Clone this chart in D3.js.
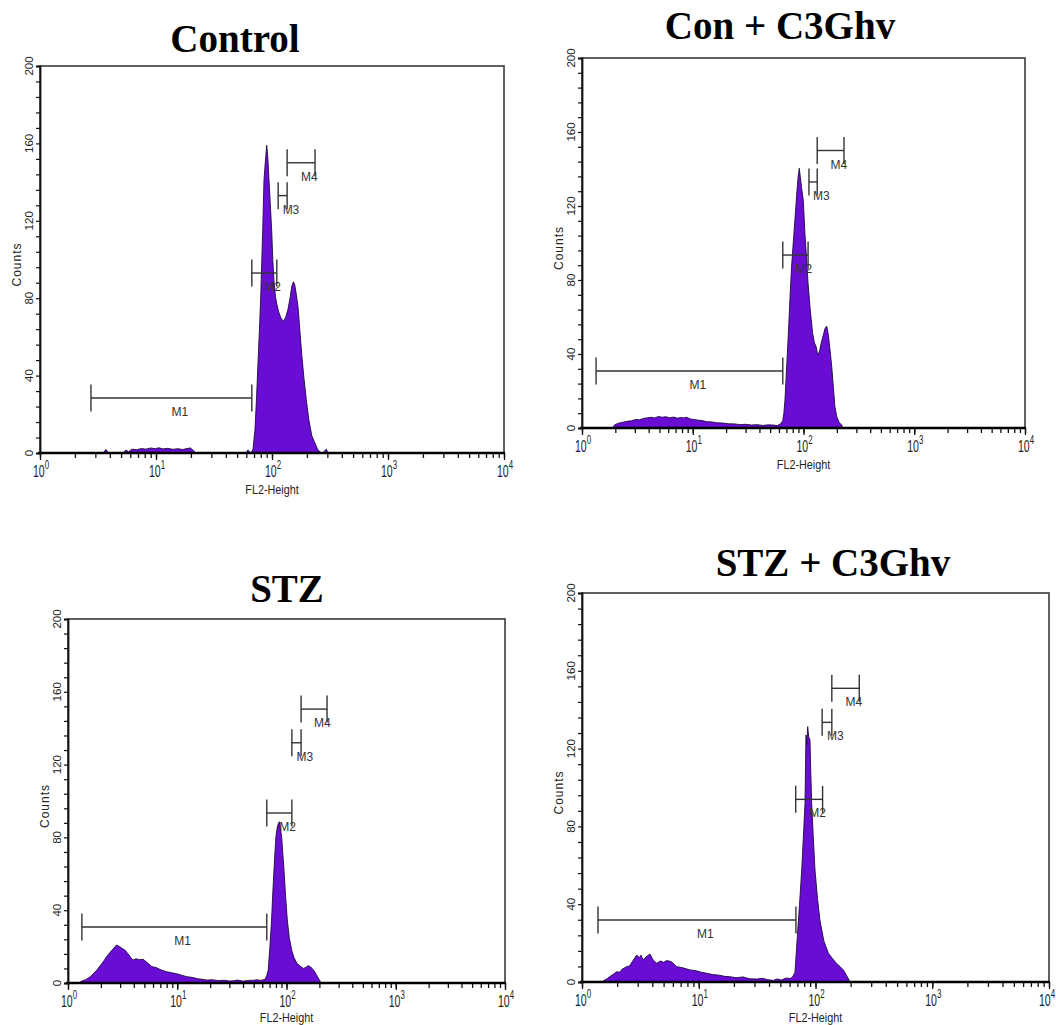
<!DOCTYPE html>
<html><head><meta charset="utf-8">
<script src="https://cdn.jsdelivr.net/npm/d3@7"></script>
<style>body{margin:0;background:#fff}</style></head>
<body>
<svg id="chart" width="1056" height="1025"></svg>
<script>
// ---------- DATA ----------
const panelTitles = ["Control", "Con + C3Ghv", "STZ", "STZ + C3Ghv"];
const xAxisTitle = "FL2-Height";
const yAxisTitle = "Counts";
const yTickLabels = [0, 40, 80, 120, 160, 200];
const xDecades = [1, 10, 100, 1000, 10000];
const xDecadeExponents = ["0", "1", "2", "3", "4"];
const markerNames = ["M1", "M2", "M3", "M4"];

// histogram outlines: [FL2-Height, counts]
const controlHist = [[1,0],[3.5,0],[3.7,1.8],[3.9,0],[5.2,0],[5.5,1.5],[5.8,0.6],[6.2,2],[6.8,1.7],[7.5,2.3],[8.2,2.0],[9,2.6],[9.8,2.2],[10.6,2.7],[11.5,2.1],[12.5,2.4],[14,1.9],[15.5,2.2],[17,1.8],[18.5,2.3],[19.8,2.6],[20.8,1.5],[22,0],[60,0],[62,1.6],[64,0.5],[66,0],[68.6,2],[71.3,12],[73.5,28],[75.7,46],[78,64],[79.9,80],[81.5,98],[83.2,115],[85.3,141],[87.5,150],[90,159],[92,153],[94.2,141],[96.8,128],[99.4,115],[101.5,100],[104,89],[107,81],[110,77],[114,73],[119,70],[125,68],[131,70],[137,74],[143,80],[148,86],[153,88.5],[157,87],[162,82],[168,75],[174,63],[181,50],[189,38],[198,27],[208,17],[220,9],[235,5],[247,2],[259,0.5],[275,0],[288,1.5],[295,2],[302,0],[10000,0]];
const conC3Hist = [[1,0],[1.9,0],[1.95,1.5],[2.1,2.5],[2.3,3],[2.55,3.6],[2.8,3.9],[3.05,4.6],[3.3,4.4],[3.6,5.2],[3.9,5.5],[4.2,5.8],[4.5,5.4],[4.9,6.2],[5.3,5.8],[5.7,6.1],[6.2,5.5],[6.7,5.9],[7.3,5.3],[7.8,5.7],[8.2,5.4],[8.8,5.8],[9.5,4.9],[10.3,4.6],[11.2,4.2],[12.2,4],[13.4,3.4],[14.8,3.3],[16.5,2.8],[18.5,2.7],[21,2.3],[24,2.2],[26.7,1.8],[30,2],[34,1.6],[38,1.8],[43,1.4],[48,1.7],[53,1.6],[58,1.3],[62,2.2],[65,4],[66.5,8],[68,15],[70.5,33],[73,51],[75.5,70],[78,87],[81,101],[84,114],[87,127],[89.5,136],[91.6,140.4],[93.5,136],[96,130],[99.6,123],[103,105],[106.5,92],[110,78],[115,64],[121,51],[125.5,46],[130,44],[133,41],[136,39.5],[140,42],[146,47],[152,51],[157,54],[162,55],[167,51],[173,43],[180,33],[186,22],[192,11.5],[200,6],[210,3],[221,1.6],[228,0],[10000,0]];
const stzHist = [[1,0],[1.25,0],[1.33,1],[1.45,1.8],[1.6,3.5],[1.83,7],[2.0,10],[2.15,12.5],[2.26,14.5],[2.4,16.5],[2.55,18.3],[2.7,20],[2.79,20.9],[2.95,20],[3.1,19.2],[3.33,18],[3.55,16],[3.75,14],[3.95,12.6],[4.2,13.3],[4.5,12.8],[4.89,13],[5.3,11.2],[5.83,9],[6.4,8.5],[7.1,7.2],[8.0,6.2],[8.9,5.6],[9.9,5.1],[11,4.2],[12.2,3.5],[13.6,3.1],[15.3,2.4],[17,2],[18.6,1.6],[21,1.8],[24,1.3],[27,1.5],[30,1.1],[32.6,1.2],[36,1.6],[40,1.0],[44,1.4],[49.7,1.5],[54,1.8],[58,1.4],[63.6,2],[65.9,4],[68,7],[70.5,20],[73,34.6],[75,50],[76.8,62],[78.5,72],[80,80.4],[82,85],[84,87.5],[86,88.6],[88,85],[90.4,80],[92.5,71],[94.9,62],[98,48],[101.7,34.6],[106,25],[111.6,18],[117,14],[124,11],[132,9.5],[142.5,8],[150,8.5],[157,9.5],[164,9],[172,8],[182,6],[192,3.5],[203,1],[210,0],[10000,0]];
const stzC3Hist = [[1,0],[1.45,0],[1.52,0.5],[1.62,1.5],[1.75,3],[1.88,4.2],[1.98,5.3],[2.1,5],[2.2,6.5],[2.41,7.9],[2.55,8.2],[2.7,10.5],[2.94,13.9],[3.1,12.5],[3.2,13.8],[3.35,11.3],[3.55,13],[3.82,14.4],[4.05,11.5],[4.36,9.6],[4.7,10.8],[5.0,10.1],[5.31,11],[5.8,10.5],[6.47,7.9],[7.3,7.3],[8.42,6.2],[9.5,5.8],[10.5,5],[11.7,4.5],[13.2,3.8],[15,3.5],[16.7,2.9],[18.5,2.7],[21,2.2],[24,2.6],[27,1.7],[31.4,1.5],[35,1.9],[39,1.2],[43.5,0.8],[47,1.6],[51,1.0],[56,2],[60.5,1.8],[63.5,2.5],[66.7,5],[68.3,14],[69.9,23.3],[73,40],[76.2,57.6],[78.8,75],[81.3,91.9],[82.9,127],[84.3,122],[85.7,131.3],[87.5,126],[89.7,124.4],[91,109],[92.7,91.9],[95.8,74],[99,57.6],[104,43],[109,31.9],[118,21],[129,14.8],[140,12],[151,9.6],[162,8],[173,6.2],[186,3],[198,0],[10000,0]];

// gate markers: [start, end, count level]
const controlMarkers = [[2.75,67,28.4],[67,110,93],[113,135,133],[135,235,150]];
const conC3Markers  = [[1.34,65,30.8],[65,110,93.5],[112,133,133],[133,232,150]];
const stzMarkers    = [[1.34,66,30.8],[66,112,93.4],[112,136,132],[136,235,150.5]];
const stzC3Markers  = [[1.37,68,31.9],[67.7,115,93.9],[114,138,133.5],[138,237,151]];

const histograms = [controlHist, conC3Hist, stzHist, stzC3Hist];
const markers = [controlMarkers, conC3Markers, stzMarkers, stzC3Markers];

// ---------- LAYOUT ----------
const layout = [
  {left:40,  right:504,  top:66,  bottom:453, tx:235, ty:52},
  {left:582, right:1025, top:58,  bottom:428, tx:780, ty:39},
  {left:68,  right:505,  top:619, bottom:983, tx:287, ty:602},
  {left:582, right:1049, top:593, bottom:982, tx:833, ty:576}
];

const svg = d3.select("#chart");
const sans = "'Liberation Sans', Arial, sans-serif";
const fillCol = "#6a0dd4";
const W = 1056, H = 1025;

layout.forEach((p, i) => {
  const g = svg.append("g");
  const x = d3.scaleLog().domain([1, 10000]).range([p.left, p.right]);
  const y = d3.scaleLinear().domain([0, 200]).range([p.bottom, p.top]);

  // title
  g.append("text").attr("x", p.tx).attr("y", p.ty).attr("text-anchor", "middle")
    .style("font-family", "'Liberation Serif','Times New Roman',serif")
    .style("font-weight", "bold").style("font-size", "39px").attr("fill", "#000")
    .text(panelTitles[i]);

  // frame
  g.append("rect").attr("x", p.left).attr("y", p.top)
    .attr("width", p.right - p.left).attr("height", p.bottom - p.top)
    .attr("fill", "none").attr("stroke", "#3a3a3a").attr("stroke-width", 1.6);

  // histogram
  const area = d3.area().x(d => x(d[0])).y0(y(0)).y1(d => y(d[1]));
  g.append("path").datum(histograms[i]).attr("d", area)
    .attr("fill", fillCol).attr("stroke", "#1e0840").attr("stroke-width", 0.9)
    .attr("stroke-linejoin", "round");

  // x axis: minor + major ticks
  const xMinor = d3.axisBottom(x).tickValues(x.ticks()).tickSize(5).tickFormat("");
  const xg = g.append("g").attr("transform", `translate(0,${p.bottom})`).call(xMinor);
  const xMajor = d3.axisBottom(x).tickValues(xDecades).tickSize(7).tickFormat("");
  const xg2 = g.append("g").attr("transform", `translate(0,${p.bottom})`).call(xMajor);
  [xg, xg2].forEach(a => {
    a.select(".domain").remove();
    a.selectAll(".tick line").attr("stroke", "#111").attr("stroke-width", 1.3);
  });
  // thick baseline
  g.append("line").attr("x1", p.left - 2).attr("x2", p.right + 1)
    .attr("y1", p.bottom).attr("y2", p.bottom)
    .attr("stroke", "#000").attr("stroke-width", 2.6);

  // x tick labels 10^k
  xDecades.forEach((v, k) => {
    let cx = x(v) + 1;
    if (cx + 8 > W - 1) cx = W - 9;
    const t = g.append("text")
      .attr("transform", `translate(${cx},${p.bottom + 24}) scale(0.66,1)`)
      .attr("text-anchor", "middle").style("font-family", sans)
      .style("font-size", "16px").attr("fill", "#222");
    t.append("tspan").text("10");
    t.append("tspan").attr("dy", -8).style("font-size", "12px").text(xDecadeExponents[k]);
  });
  // x axis title
  const ty = Math.min(p.bottom + 41, H - 3);
  g.append("text")
    .attr("transform", `translate(${(p.left + p.right) / 2},${ty}) scale(0.9,1)`)
    .attr("text-anchor", "middle").style("font-family", sans).style("font-size", "12px")
    .attr("fill", "#222").text(xAxisTitle);

  // y axis ticks
  const yAx = d3.axisLeft(y).tickValues(d3.range(0, 201, 8)).tickSize(4).tickFormat("");
  const yg = g.append("g").attr("transform", `translate(${p.left},0)`).call(yAx);
  yg.select(".domain").attr("stroke", "#111").attr("stroke-width", 1.8);
  yg.selectAll(".tick line").attr("stroke", "#111").attr("stroke-width", 1.2);
  // y tick labels (rotated)
  yTickLabels.forEach(v => {
    g.append("text")
      .attr("transform", `translate(${p.left - 7},${y(v)}) rotate(-90)`)
      .attr("text-anchor", "middle").style("font-family", sans).style("font-size", "11.5px")
      .attr("fill", "#222").text(v);
  });
  // y axis title
  g.append("text")
    .attr("transform", `translate(${p.left - 19},${(p.top + p.bottom) / 2 + 5}) rotate(-90)`)
    .attr("text-anchor", "middle").style("font-family", sans).style("font-size", "12px")
    .style("letter-spacing", "1px").attr("fill", "#222").text(yAxisTitle);

  // gate markers
  markers[i].forEach((m, k) => {
    const x0 = x(m[0]), x1 = x(m[1]), yy = y(m[2]);
    const mg = g.append("g").attr("stroke", "#333").attr("stroke-width", 1.4);
    mg.append("line").attr("x1", x0).attr("x2", x1).attr("y1", yy).attr("y2", yy);
    mg.append("line").attr("x1", x0).attr("x2", x0).attr("y1", yy - 13.5).attr("y2", yy + 13.5);
    mg.append("line").attr("x1", x1).attr("x2", x1).attr("y1", yy - 13.5).attr("y2", yy + 13.5);
    g.append("text").attr("x", (x0 + x1) / 2).attr("y", yy + 18)
      .style("font-family", sans).style("font-size", "12px").attr("fill", "#333")
      .text(markerNames[k]);
  });
});
</script>
</body></html>
